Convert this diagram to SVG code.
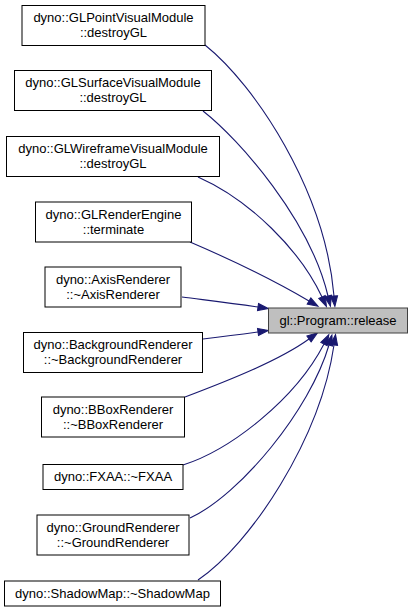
<svg xmlns="http://www.w3.org/2000/svg" width="413" height="613" viewBox="0 0 413 613">
<defs>
<style>
.node rect{fill:#ffffff;stroke:#000000;stroke-width:1}
.node text{font-family:"Liberation Sans",Arial,sans-serif;font-size:13px;fill:#000000;text-anchor:middle}
#target rect{fill:#bfbfbf;stroke:#404040}
.edges path{fill:none;stroke:#191970;stroke-width:1.1}
</style>
<marker id="arr" markerUnits="userSpaceOnUse" markerWidth="12" markerHeight="10" refX="0" refY="0" viewBox="0 -5 12 10" orient="auto" overflow="visible">
<path d="M0,-3.6 L10.5,0 L0,3.6 z" fill="#191970" stroke="#191970" stroke-width="1"/>
</marker>
</defs>
<rect width="413" height="613" fill="#ffffff"/>
<g class="edges">
<path marker-end="url(#arr)" d="M205,45 C255,85 325,190 334,296"/>
<path marker-end="url(#arr)" d="M203,111 C240,140 310,220 328,296"/>
<path marker-end="url(#arr)" d="M198,177 C250,200 300,250 322,297"/>
<path marker-end="url(#arr)" d="M190,242 C225,257 270,278 309,301"/>
<path marker-end="url(#arr)" d="M182,297 C205,300 230,303 258,307"/>
<path marker-end="url(#arr)" d="M203,339 C220,337 240,334.5 258,332"/>
<path marker-end="url(#arr)" d="M185,397 C230,380 280,360 309,339"/>
<path marker-end="url(#arr)" d="M183,465 C230,450 295,400 324,344"/>
<path marker-end="url(#arr)" d="M190,518 C240,495 310,410 329,345"/>
<path marker-end="url(#arr)" d="M198,580 C250,545 320,440 334,345"/>
</g>
<g id="target" class="node">
<rect x="268.5" y="308" width="139" height="25"/>
<text x="338" y="324.5">gl::Program::release</text>
</g>
<g id="n1" class="node">
<rect x="22" y="5.5" width="183" height="40"/>
<text x="113.5" y="22">dyno::GLPointVisualModule</text>
<text x="113.5" y="37">::destroyGL</text>
</g>
<g id="n2" class="node">
<rect x="14.5" y="70.5" width="197" height="40"/>
<text x="113" y="87">dyno::GLSurfaceVisualModule</text>
<text x="113" y="102">::destroyGL</text>
</g>
<g id="n3" class="node">
<rect x="6.5" y="136.5" width="213" height="40"/>
<text x="113" y="153">dyno::GLWireframeVisualModule</text>
<text x="113" y="168">::destroyGL</text>
</g>
<g id="n4" class="node">
<rect x="35.5" y="202" width="156" height="40"/>
<text x="113.5" y="218.5">dyno::GLRenderEngine</text>
<text x="113.5" y="233.5">::terminate</text>
</g>
<g id="n5" class="node">
<rect x="45" y="267" width="136" height="40"/>
<text x="113" y="283.5">dyno::AxisRenderer</text>
<text x="113" y="298.5">::~AxisRenderer</text>
</g>
<g id="n6" class="node">
<rect x="23.5" y="332.5" width="179" height="40"/>
<text x="113" y="349">dyno::BackgroundRenderer</text>
<text x="113" y="364">::~BackgroundRenderer</text>
</g>
<g id="n7" class="node">
<rect x="41.5" y="397" width="143" height="40"/>
<text x="113" y="413.5">dyno::BBoxRenderer</text>
<text x="113" y="428.5">::~BBoxRenderer</text>
</g>
<g id="n8" class="node">
<rect x="43" y="464.5" width="140" height="25"/>
<text x="113" y="481">dyno::FXAA::~FXAA</text>
</g>
<g id="n9" class="node">
<rect x="37" y="515" width="152" height="40"/>
<text x="113" y="531.5">dyno::GroundRenderer</text>
<text x="113" y="546.5">::~GroundRenderer</text>
</g>
<g id="n10" class="node">
<rect x="4.5" y="581" width="216" height="25"/>
<text x="112.5" y="597.5">dyno::ShadowMap::~ShadowMap</text>
</g>
</svg>
